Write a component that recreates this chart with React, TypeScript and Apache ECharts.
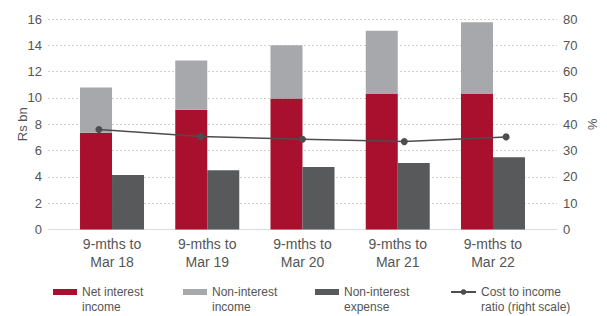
import React, { useEffect, useRef } from "react";
import * as echarts from "echarts";

const categories = ["9-mths to\nMar 18", "9-mths to\nMar 19", "9-mths to\nMar 20", "9-mths to\nMar 21", "9-mths to\nMar 22"];
const netInterestIncome = [7.35, 9.1, 9.95, 10.3, 10.3];
const nonInterestIncome = [3.45, 3.75, 4.05, 4.8, 5.45];
const nonInterestExpense = [4.15, 4.5, 4.75, 5.05, 5.5];
const costToIncome = [38.0, 35.3, 34.3, 33.4, 35.2];
const leftTicks = { min: 0, max: 16, interval: 2 };
const rightTicks = { min: 0, max: 80, interval: 10 };

const FONT = "'Liberation Sans', Arial, sans-serif";
const TXT = "#555555";
const RED = "#a8102d";
const GRAY = "#a7a8ac";
const DARK = "#58595b";

export default function App() {
  const ref = useRef<HTMLDivElement>(null);
  useEffect(() => {
    document.body.style.margin = "0";
    const chart = echarts.init(ref.current!, null, { renderer: "svg" });
    const legendText = {
      color: TXT,
      fontSize: 12,
      fontFamily: FONT,
      lineHeight: 15,
    };
    const mkLegend = (name: string, left: number, w: number, h: number, icon?: string) => ({
      data: [icon ? { name, icon } : name],
      left,
      top: 269.5,
      padding: 0,
      itemWidth: w,
      itemHeight: h,
      itemGap: 0,
      selectedMode: false,
      formatter: (n: string) => "\n" + n,
      textStyle: legendText,
    });
    chart.setOption({
      animation: false,
      textStyle: { fontFamily: FONT },
      grid: [
        { left: 48, right: 50, top: 19, bottom: 86.5 },
        { left: 64.4, right: 66.4, top: 19, bottom: 86.5 },
      ],
      legend: [
        { ...mkLegend("Net interest\nincome", 53, 24, 6, "rect"), itemStyle: { borderWidth: 0 } },
        { ...mkLegend("Non-interest\nincome", 183, 24, 6, "rect"), itemStyle: { borderWidth: 0 } },
        { ...mkLegend("Non-interest\nexpense", 315, 24, 6, "rect"), itemStyle: { borderWidth: 0 } },
        { ...mkLegend("Cost to income\nratio (right scale)", 450, 25, 7) },
      ],
      xAxis: [
        {
          type: "category",
          gridIndex: 0,
          data: categories,
          axisLine: { show: true, lineStyle: { color: "#dcdcdc", width: 1 } },
          axisTick: { show: false },
          axisLabel: { show: false },
          splitLine: { show: false },
        },
        {
          type: "category",
          gridIndex: 1,
          data: categories,
          axisLine: { show: false },
          axisTick: { show: false },
          axisLabel: { color: TXT, fontSize: 14, fontFamily: FONT, lineHeight: 18, margin: 5 },
          splitLine: { show: false },
        },
      ],
      yAxis: [
        {
          type: "value",
          gridIndex: 0,
          position: "left",
          ...leftTicks,
          name: "Rs bn",
          nameLocation: "middle",
          nameGap: 19.5,
          nameRotate: 90,
          nameMoveOverlap: false,
          nameTextStyle: { color: TXT, fontSize: 13, fontFamily: FONT },
          axisLine: { show: false },
          axisTick: { show: false },
          axisLabel: { color: TXT, fontSize: 13, fontFamily: FONT, margin: 6 },
          splitLine: { show: true, lineStyle: { color: "#d8cfc5", type: [2, 2], width: 1 } },
        },
        {
          type: "value",
          gridIndex: 0,
          position: "right",
          ...rightTicks,
          name: "%",
          nameLocation: "middle",
          nameGap: 29,
          nameRotate: -90,
          nameMoveOverlap: false,
          nameTextStyle: { color: TXT, fontSize: 13, fontFamily: FONT },
          axisLine: { show: false },
          axisTick: { show: false },
          axisLabel: { color: TXT, fontSize: 13, fontFamily: FONT, margin: 6 },
          splitLine: { show: false },
        },
        {
          type: "value",
          gridIndex: 1,
          ...leftTicks,
          show: false,
          splitLine: { show: false },
        },
      ],
      series: [
        {
          name: "Net interest\nincome",
          type: "bar",
          xAxisIndex: 1,
          yAxisIndex: 2,
          stack: "income",
          barWidth: 32,
          barGap: "0%",
          itemStyle: { color: RED },
          data: netInterestIncome,
        },
        {
          name: "Non-interest\nincome",
          type: "bar",
          xAxisIndex: 1,
          yAxisIndex: 2,
          stack: "income",
          barWidth: 32,
          barGap: "0%",
          itemStyle: { color: GRAY },
          data: nonInterestIncome,
        },
        {
          name: "Non-interest\nexpense",
          type: "bar",
          xAxisIndex: 1,
          yAxisIndex: 2,
          barWidth: 32,
          barGap: "0%",
          itemStyle: { color: DARK },
          data: nonInterestExpense,
        },
        {
          name: "Cost to income\nratio (right scale)",
          type: "line",
          xAxisIndex: 0,
          yAxisIndex: 1,
          symbol: "circle",
          symbolSize: 7,
          lineStyle: { color: "#4d4d4f", width: 1.5 },
          itemStyle: { color: "#4d4d4f" },
          data: costToIncome,
          z: 5,
        },
      ],
    });
    return () => chart.dispose();
  }, []);
  return <div ref={ref} style={{ width: 607, height: 316 }} />;
}
